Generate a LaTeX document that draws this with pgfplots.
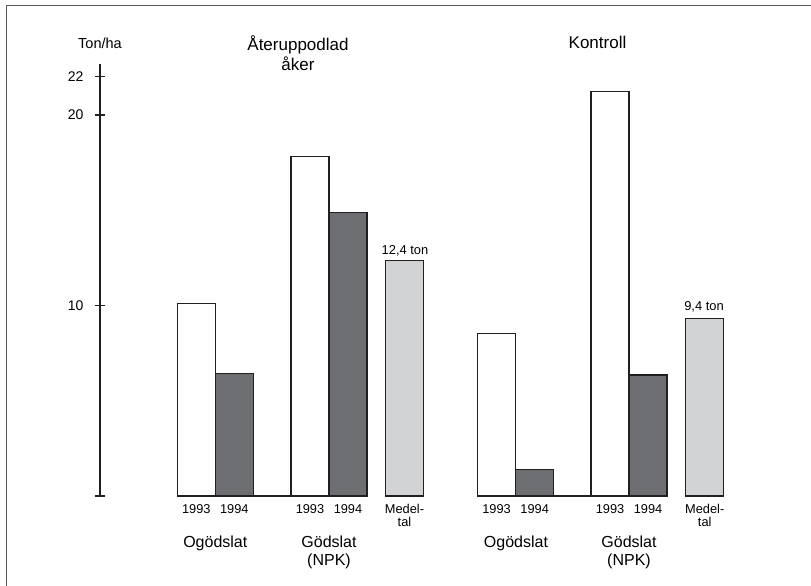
\documentclass[border=0pt]{standalone}
\usepackage{fontspec}
\setmainfont{Liberation Sans}
\usepackage{pgfplots}
\pgfplotsset{compat=1.18}
\definecolor{darkbar}{HTML}{6D6E71}
\definecolor{lightbar}{HTML}{D1D3D4}
\definecolor{outl}{HTML}{231F20}
\definecolor{frame}{HTML}{5A5A5A}
\begin{document}
\begin{tikzpicture}[x=1pt,y=1pt]
\path[use as bounding box] (0,0) rectangle (811,586);
\draw[frame, line width=1.6pt] (6.5,0) -- (6.5,580.5) -- (811,580.5);
\begin{axis}[
  at={(100pt,90pt)}, anchor=south west,
  scale only axis, x=1pt, y=19.05pt,
  xmin=100, xmax=811, ymin=0, ymax=22.7,
  clip=false,
  axis y line*=left, axis x line*=bottom,
  x axis line style={draw=none},
  y axis line style={outl, line width=1.3pt},
  ytick={0,10,20,22}, yticklabels={,10,20,22},
  tick align=center, major tick length=10pt,
  ytick style={outl, line width=1.1pt},
  xtick={196.3,234.3,310,348,404.5,496.5,534.7,610,648,704.7},
  xticklabels={1993,1994,1993,1994,{Medel-\\tal},1993,1994,1993,1994,{Medel-\\tal}},
  xtick style={draw=none},
  xticklabel style={font=\fontsize{12.8}{13}\selectfont, align=center, yshift=0pt},
  yticklabel style={font=\fontsize{14}{16}\selectfont, xshift=-8pt},
  /pgf/number format/assume math mode=true,
]
\addplot[ybar, bar width=38, bar shift=0pt, fill=white, draw=outl, line width=1.1pt]
  coordinates {(196.3,10.1) (310,17.8) (496.5,8.55) (610,21.22)};
\addplot[ybar, bar width=38, bar shift=0pt, fill=darkbar, draw=outl, line width=1.1pt]
  coordinates {(234.3,6.45) (348,14.9) (534.7,1.38) (648,6.35)};
\addplot[ybar, bar width=38, bar shift=0pt, fill=lightbar, draw=outl, line width=1.1pt]
  coordinates {(404.5,12.35) (704.7,9.33)};
\addplot[outl, line width=1.1pt, mark=none] coordinates {(253.3,0) (291,0)};
\addplot[outl, line width=1.1pt, mark=none] coordinates {(553.7,0) (591,0)};
\end{axis}
\node[font=\fontsize{14.5}{16}\selectfont] at (100,543) {Ton/ha};
\node[font=\fontsize{17}{20}\selectfont, align=center] at (298,532.8) {Återuppodlad\\åker};
\node[font=\fontsize{17}{20}\selectfont] at (597.5,543.7) {Kontroll};
\node[font=\fontsize{12.9}{14}\selectfont] at (405,335.3) {12,4 ton};
\node[font=\fontsize{12.9}{14}\selectfont] at (704,278.7) {9,4 ton};
\node[font=\fontsize{16}{18.7}\selectfont] at (215.3,43) {Ogödslat};
\node[font=\fontsize{16}{18.7}\selectfont] at (516,43) {Ogödslat};
\node[font=\fontsize{16}{18.7}\selectfont, align=center] at (329,33.7) {Gödslat\\(NPK)};
\node[font=\fontsize{16}{18.7}\selectfont, align=center] at (629,33.7) {Gödslat\\(NPK)};
\end{tikzpicture}
\end{document}
